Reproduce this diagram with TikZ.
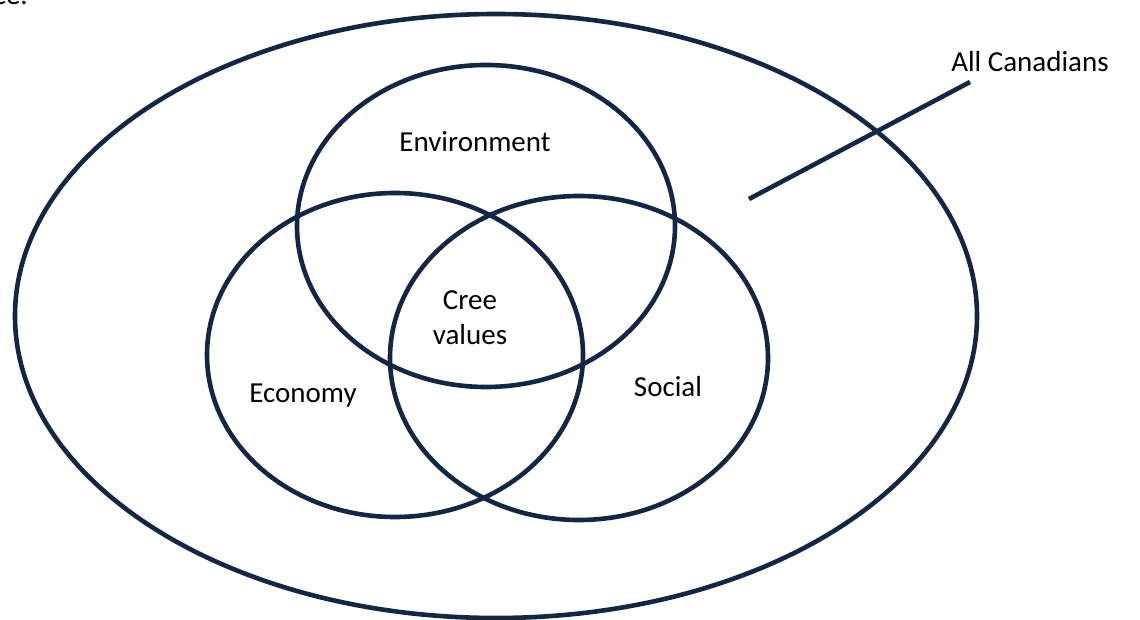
\documentclass[tikz,border=0pt]{standalone}
\usepackage{fontspec}
\setmainfont{Carlito}
\begin{document}
\begin{tikzpicture}[x=1pt,y=-1pt,
  ring/.style={draw=navy,line width=4.6pt},
  lbl/.style={font=\fontsize{29}{35}\selectfont,text=black,inner sep=0pt,align=center}]
\definecolor{navy}{RGB}{20,38,68}
\useasboundingbox (0,0) rectangle (1140,620);
% outer population
\draw[ring] (496,316) ellipse [x radius=481, y radius=302];
% three overlapping domains
\draw[ring] (486,226) ellipse [x radius=189, y radius=161];
\draw[ring] (395,355) ellipse [x radius=188, y radius=162];
\draw[ring] (579,358) ellipse [x radius=189, y radius=162];
% labels
\node[lbl] (env) at (475,142) {Environment};
\node[lbl] (cree) at (470,318) {Cree\\values};
\node[lbl] (eco) at (303,396) {Economy};
\node[lbl] (soc) at (668,387) {Social};
\node[lbl] (all) at (1030,62) {All Canadians};
\node[lbl,anchor=base east] (prev) at (28,5) {ce.};
% pointer to outer ring
\coordinate (tip) at (749,199);
\coordinate (tail) at (970,82);
\draw[draw=navy,line width=4.6pt] (tip) -- (tail);
\end{tikzpicture}
\end{document}
